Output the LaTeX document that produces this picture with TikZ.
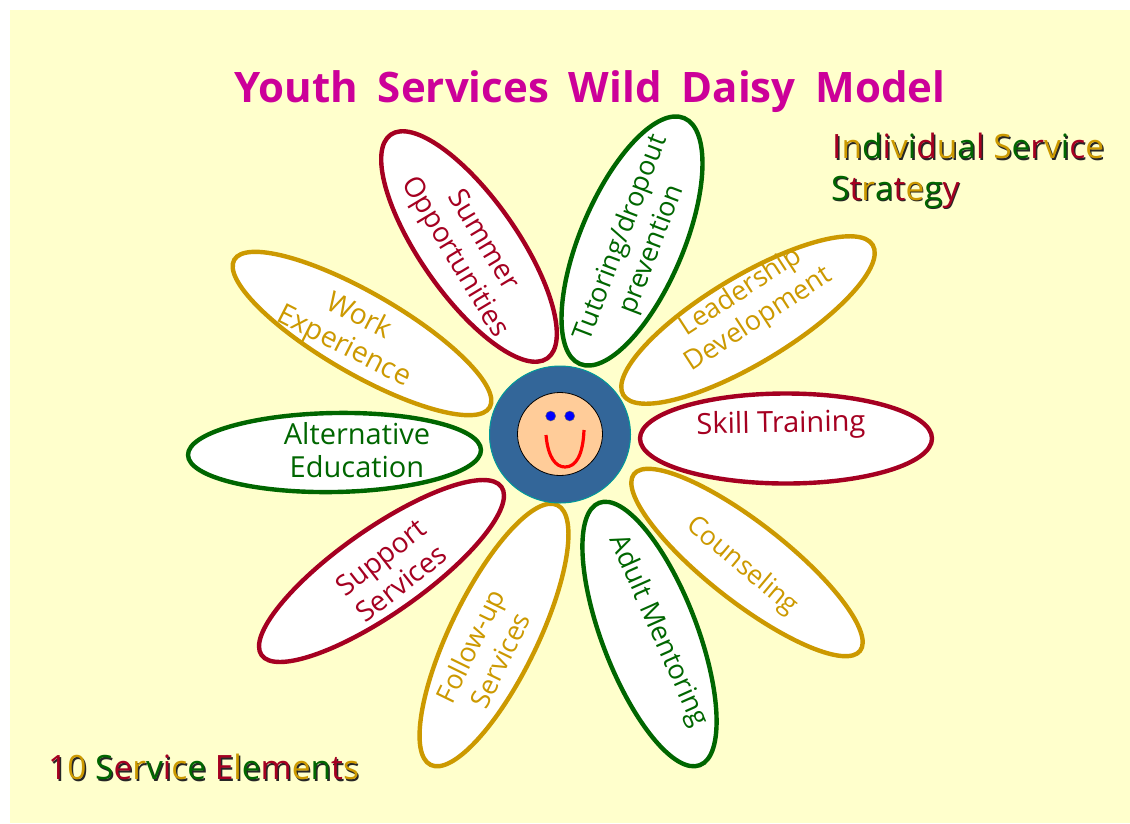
\documentclass[tikz,border=0pt]{standalone}
\usepackage{fontspec}
\setmainfont{Open Sans}
\usetikzlibrary{shapes.geometric}
\definecolor{myred}{HTML}{A50021}
\definecolor{mygold}{HTML}{CC9900}
\definecolor{mygreen}{HTML}{006600}
\definecolor{mytitle}{HTML}{CC0099}
\definecolor{myblue}{HTML}{336699}
\definecolor{myteal}{HTML}{009999}
\definecolor{myface}{HTML}{FFCC99}
\definecolor{mybg}{HTML}{FFFFCC}
\newcommand\Rc[1]{\textcolor{myred}{#1}}
\newcommand\Gc[1]{\textcolor{mygold}{#1}}
\newcommand\Dc[1]{\textcolor{mygreen}{#1}}
\newcommand\fancytext[3]{%
  \node[fancy,text=black!85] at ([xshift=1.5pt,yshift=-1.5pt]#2) {\def\Rc##1{##1}\def\Gc##1{##1}\def\Dc##1{##1}#3};
  \node[fancy] (#1) at (#2) {#3};}
\tikzset{
  x=1pt,y=-1pt,
  petal/.style={ellipse,draw=#1,line width=4.4pt,fill=white,inner sep=0pt},
  ptext/.style={align=center,font=\fontsize{29}{33}\selectfont,inner sep=0pt,text=#1},
  ptsmall/.style={font=\fontsize{#1}{33}\selectfont},
  fancy/.style={anchor=west,inner sep=0pt,font=\fontsize{33.5}{38}\selectfont},
}
\begin{document}
\begin{tikzpicture}
\useasboundingbox (0,0) rectangle (1130,823);
\fill[white] (0,0) rectangle (1130,823);
\fill[mybg] (10,10) rectangle (1130,823);
\node[font=\bfseries\fontsize{42}{48}\selectfont,text=mytitle,inner sep=0pt] (title) at (590,92) {Youth\hspace{9pt} Services\hspace{9pt} Wild\hspace{9pt} Daisy\hspace{9pt} Model};
\node[petal=myred,minimum width=292pt,minimum height=90pt,rotate=0] (p1) at (786,438.5) {};
\node[petal=mygreen,minimum width=293pt,minimum height=79pt,rotate=1] (p2) at (334.5,452.5) {};
\node[petal=mygold,minimum width=295pt,minimum height=81pt,rotate=-30] (p3) at (362,333.5) {};
\node[petal=myred,minimum width=273pt,minimum height=97pt,rotate=-55] (p4) at (469,246.5) {};
\node[petal=mygreen,minimum width=267pt,minimum height=103pt,rotate=67] (p5) at (632,241) {};
\node[petal=mygold,minimum width=291pt,minimum height=87pt,rotate=31] (p6) at (748,320) {};
\node[petal=mygold,minimum width=287pt,minimum height=79pt,rotate=-38] (p7) at (747,562.5) {};
\node[petal=mygreen,minimum width=281pt,minimum height=95pt,rotate=-69] (p8) at (649.5,634) {};
\node[petal=mygold,minimum width=289pt,minimum height=87pt,rotate=64] (p9) at (494,635) {};
\node[petal=myred,minimum width=293pt,minimum height=85pt,rotate=35] (p10) at (381.5,571) {};
\node[ptext=myred,rotate=1] (t1) at (781,425) {Skill Training};
\node[ptext=mygreen] (t2) at (357,450) {Alternative\\Education};
\node[ptext=mygold,ptsmall=28.5,rotate=-27] (t3) at (351,332) {Work\\Experience};
\node[ptext=myred,ptsmall=28,rotate=-59] (t4) at (468,249) {Summer\\Opportunities};
\node[ptext=mygreen,ptsmall=27,rotate=69] (t5) at (637,244) {Tutoring/dropout\\prevention};
\node[ptext=mygold,ptsmall=27,rotate=33] (t6) at (750,306) {Leadership\\Development};
\node[ptext=mygold,ptsmall=26.5,rotate=-40] (t7) at (742,566) {Counseling};
\node[ptext=mygreen,ptsmall=27.3,rotate=-66] (t8) at (658,631) {Adult Mentoring};
\node[ptext=mygold,ptsmall=27,rotate=64] (t9) at (485,653) {Follow-up\\Services};
\node[ptext=myred,ptsmall=28,rotate=38] (t10) at (391,570) {Support\\Services};
\node[ellipse,draw=myteal,line width=1pt,fill=myblue,minimum width=141pt,minimum height=137pt,inner sep=0pt] (center) at (560,434.5) {};
\node[ellipse,draw=black,line width=.8pt,fill=myface,minimum width=85pt,minimum height=83pt,inner sep=0pt] (face) at (560,434) {};
\node[circle,draw=black!60,line width=.4pt,fill=blue,minimum width=10pt,inner sep=0pt] (eyeL) at (550.7,416) {};
\node[circle,draw=black!60,line width=.4pt,fill=blue,minimum width=10pt,inner sep=0pt] (eyeR) at (569.7,416) {};
\draw[red,line width=3.2pt] (546,435) .. controls (548,458) and (556,467) .. (565,467) .. controls (576,467) and (583,455) .. (584,430);
\fancytext{is}{832,146}{\Rc{I}\Gc{n}\Dc{d}\Rc{i}\Gc{v}\Dc{i}\Rc{d}\Gc{u}\Dc{a}\Rc{l} \Gc{S}\Dc{e}\Rc{r}\Gc{v}\Dc{i}\Rc{c}\Gc{e}}
\fancytext{st}{831,192}{\Dc{S}\Rc{t}\Gc{r}\Dc{a}\Rc{t}\Gc{e}\Dc{g}\Rc{y}}
\fancytext{se}{48,767}{\Rc{1}\Gc{0} \Dc{S}\Rc{e}\Gc{r}\Dc{v}\Rc{i}\Gc{c}\Dc{e} \Rc{E}\Gc{l}\Dc{e}\Rc{m}\Gc{e}\Dc{n}\Rc{t}\Gc{s}}
\end{tikzpicture}
\end{document}
